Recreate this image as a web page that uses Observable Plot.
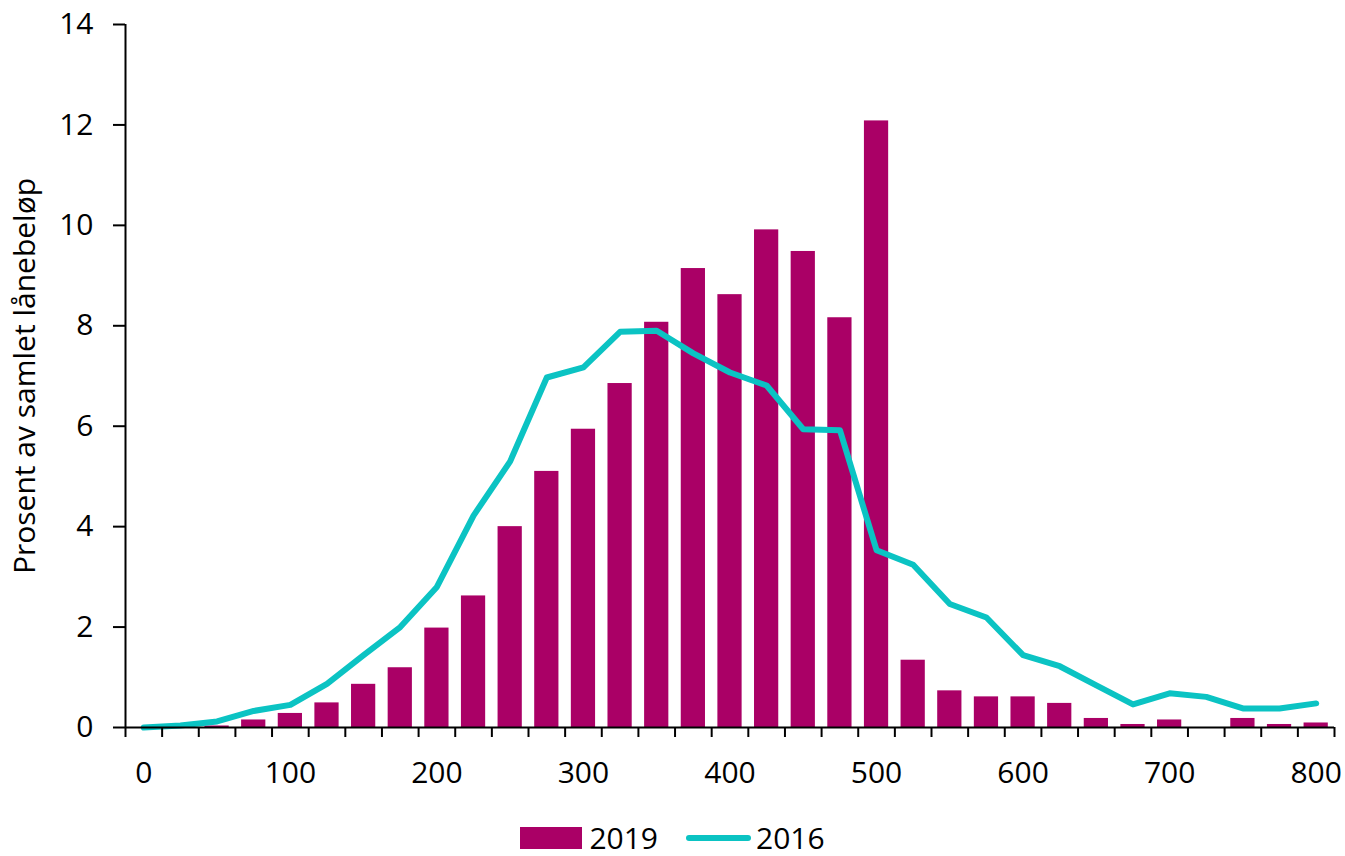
<!DOCTYPE html>
<html>
<head>
<meta charset="utf-8">
<script src="https://cdn.jsdelivr.net/npm/d3@7"></script>
<script src="https://cdn.jsdelivr.net/npm/@observablehq/plot@0.6"></script>
<style>
  html, body { margin: 0; padding: 0; background: #fff; }
  body { font-family: "Open Sans", sans-serif; width: 1345px; height: 856px; position: relative; overflow: hidden; }
  #chart svg { display: block; }
  #legend { position: absolute; left: 0; top: 822px; width: 1345px; height: 32px; display: flex; justify-content: center; align-items: center; font-size: 30px; line-height: 1; color: #000; }
  .item { display: flex; align-items: center; }
  .item span { line-height: 1; }
  .sw-bar { width: 62px; height: 22px; margin-right: 7px; }
  .sw-line { width: 65px; height: 6px; border-radius: 3px; margin-right: 5px; }
</style>
</head>
<body>
<div id="chart"></div>
<div id="legend"></div>
<script>
// Loan amount categories (thousand NOK)
const categories = [0,25,50,75,100,125,150,175,200,225,250,275,300,325,350,375,400,425,450,475,500,525,550,575,600,625,650,675,700,725,750,775,800];
// Share of total loan amount, 2019 (bars)
const values2019 = [0,0,0.03,0.15,0.28,0.49,0.86,1.19,1.98,2.62,4.0,5.1,5.94,6.85,8.07,9.14,8.62,9.91,9.48,8.16,12.08,1.34,0.73,0.61,0.61,0.48,0.18,0.06,0.15,0,0.18,0.06,0.09];
// Share of total loan amount, 2016 (line)
const values2016 = [0,0.04,0.12,0.33,0.45,0.87,1.44,2.0,2.8,4.22,5.3,6.97,7.17,7.88,7.9,7.45,7.07,6.81,5.94,5.92,3.53,3.24,2.46,2.19,1.44,1.22,0.84,0.46,0.68,0.61,0.38,0.38,0.48];
const yTicks = [0,2,4,6,8,10,12,14];
const xTickLabels = [0,100,200,300,400,500,600,700,800];
const seriesNames = ["2019","2016"];
const yLabel = "Prosent av samlet lånebeløp";
const colors = {bar: "#aa0066", line: "#0bc3c3"};

const step = categories[1] - categories[0];
const data = categories.map((c, i) => ({cat: c, v2019: values2019[i], v2016: values2016[i]}));
const xDomain = [categories[0] - step / 2, categories[categories.length - 1] + step / 2];
const boundaries = d3.range(categories.length + 1).map(i => xDomain[0] + i * step);

const chart = Plot.plot({
  width: 1345,
  height: 800,
  marginLeft: 125,
  marginRight: 11,
  marginTop: 24,
  marginBottom: 73,
  style: {fontFamily: "'Open Sans', sans-serif", color: "#000", background: "#fff"},
  x: {type: "linear", domain: xDomain},
  y: {domain: [0, 14]},
  marks: [
    Plot.rectY(data, {
      x1: d => d.cat - step / 2, x2: d => d.cat + step / 2, y: "v2019",
      fill: colors.bar, insetLeft: 6.2, insetRight: 6.2
    }),
    Plot.line(data, {x: "cat", y: "v2016", stroke: colors.line, strokeWidth: 6, strokeLinejoin: "round", strokeLinecap: "round"}),
    Plot.ruleY([0], {stroke: "#000", strokeWidth: 2}),
    Plot.ruleX([xDomain[0]], {stroke: "#000", strokeWidth: 2}),
    Plot.axisX({ticks: boundaries, tickFormat: () => "", tickSize: 10, strokeWidth: 2, stroke: "#000", label: null}),
    Plot.axisX({ticks: xTickLabels, tickSize: 0, tickPadding: 34, fontSize: 30, label: null}),
    Plot.axisY({ticks: yTicks, tickSize: 12, tickPadding: 20, strokeWidth: 2, stroke: "#000", fontSize: 30,
      label: yLabel, labelAnchor: "center", labelArrow: "none", labelOffset: 112})
  ]
});
document.getElementById("chart").appendChild(chart);

const legend = document.getElementById("legend");
legend.innerHTML = `
  <div class="item" style="margin-right:28px"><div class="sw-bar" style="background:${colors.bar}"></div><span>${seriesNames[0]}</span></div>
  <div class="item"><div class="sw-line" style="background:${colors.line}"></div><span>${seriesNames[1]}</span></div>`;
</script>
</body>
</html>
